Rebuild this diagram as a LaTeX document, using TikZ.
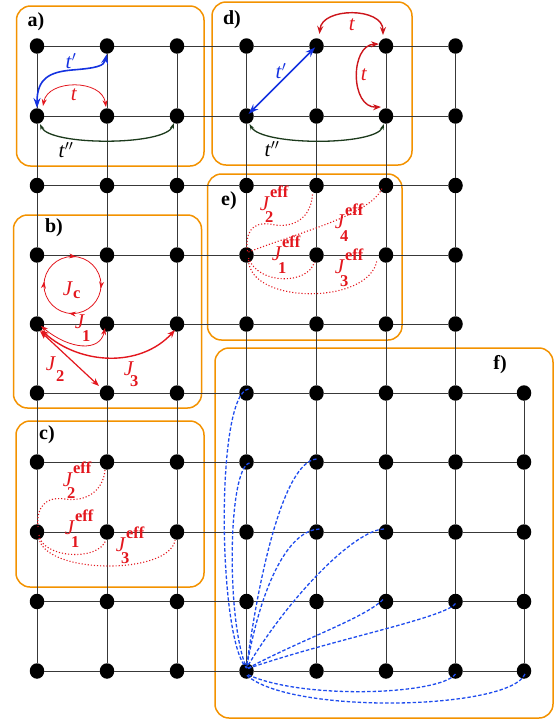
\documentclass[tikz,border=0pt]{standalone}
\usepackage{fontspec}
\setmainfont{Liberation Serif}
\usetikzlibrary{arrows.meta,shapes.geometric,decorations.markings,calc}
\definecolor{boxc}{HTML}{F39200}
\definecolor{jred}{HTML}{E3171E}
\definecolor{tblue}{HTML}{1432E0}
\definecolor{dblue}{HTML}{1E4CEE}
\definecolor{tgreen}{HTML}{1C3A1C}
\newcommand{\JS}{\fontsize{16.5}{16.5}\selectfont\bfseries}
\newcommand{\Jx}[4]{\textit{J}\smash{\rlap{\kern#3\raisebox{-#4}{\JS #2}}\rlap{\raisebox{13pt}{\JS #1}}}}
\begin{document}
\begin{tikzpicture}[x=1pt,y=-1pt,
  dot/.style={ellipse,fill=black,inner sep=0pt,minimum width=14.5pt,minimum height=15.5pt},
  gridline/.style={draw=black!78,line width=0.9pt},
  panel/.style={draw=boxc,line width=1.5pt,rounded corners=14pt},
  plab/.style={font=\fontsize{20}{20}\selectfont\bfseries,inner sep=0pt},
  tlab/.style={font=\fontsize{21}{21}\selectfont,inner sep=0pt},
  Jlab/.style={text=jred,font=\fontsize{21}{21}\selectfont,inner sep=0pt},
  tp/.style={draw=tblue,line width=1.6pt,{Stealth[length=10pt,width=7pt]}-{Stealth[length=10pt,width=7pt]}},
  tr/.style={draw=jred,line width=0.8pt,{Stealth[length=7pt,width=5pt]}-{Stealth[length=7pt,width=5pt]}},
  trd/.style={draw=jred!90!black,line width=1.4pt,{Stealth[length=8pt,width=6pt]}-{Stealth[length=8pt,width=6pt]}},
  tg/.style={draw=tgreen,line width=1.3pt,{Stealth[length=6pt,width=4pt]}-{Stealth[length=6pt,width=4pt]}},
  jthin/.style={draw=jred,line width=0.8pt,{Stealth[length=7pt,width=5pt]}-{Stealth[length=7pt,width=5pt]}},
  jthick/.style={draw=jred,line width=1.4pt,{Stealth[length=8pt,width=6pt]}-{Stealth[length=8pt,width=6pt]}},
  jdot/.style={draw=jred,line width=1.1pt,dotted},
  bdash/.style={draw=dblue,line width=1.3pt,dash pattern=on 3.5pt off 2pt}]
\useasboundingbox (0,0) rectangle (555,721);
% panels
\draw[panel] (16.5,6) rectangle (204,166);
\draw[panel] (212,2) rectangle (412,165);
\draw[panel] (207.5,174) rectangle (402,340);
\draw[panel] (13.5,215) rectangle (201.5,408);
\draw[panel] (16,421) rectangle (204,587);
\draw[panel] (215,348) rectangle (553,718);
% lattice sites
\foreach \r/\y in {1/46,2/116,3/185.5,4/255,5/324,6/393,7/462,8/532,9/601.5,10/671}{
  \foreach \c/\x in {1/37,2/107,3/177,4/246.5,5/316.5,6/386,7/455.5,8/524}{
    \ifnum\r<6 \ifnum\c=8 \else \node[dot] (n-\r-\c) at (\x,\y) {}; \fi
    \else \node[dot] (n-\r-\c) at (\x,\y) {}; \fi
  }
}
% lattice bonds
\foreach \r in {1,...,10}{
  \pgfmathtruncatemacro\m{\r<6 ? 6 : 7}
  \foreach \c in {1,...,\m}{
    \pgfmathtruncatemacro\d{\c+1}
    \draw[gridline] (n-\r-\c) -- (n-\r-\d);
  }
}
\foreach \c in {1,...,8}{
  \pgfmathtruncatemacro\s{\c==8 ? 6 : 1}
  \foreach \r in {\s,...,9}{
    \pgfmathtruncatemacro\q{\r+1}
    \draw[gridline] (n-\r-\c) -- (n-\q-\c);
  }
}
% panel labels
\node[plab] (la) at (36,22) {a)};
\node[plab] (ld) at (232,20) {d)};
\node[plab] (le) at (229,201) {e)};
\node[plab] (lb) at (54,228) {b)};
\node[plab] (lc) at (47,435) {c)};
\node[plab] (lf) at (500,365) {f)};
% a)
\draw[tp] (n-2-1.north) .. controls (37,78) and (50,72) .. (72,70) .. controls (97,68) and (104,66) .. (n-1-2.south);
\node[tlab,text=tblue] (ta1) at (71,61) {\textit{t}$'$};
\draw[tr] ($(n-2-1)+(6,-10)$) .. controls (48,79) and (102,79) .. ($(n-2-2)+(-1,-9)$);
\node[tlab,text=jred] (ta2) at (74,95) {\textit{t}};
\draw[tg] ($(n-2-1)+(3,8)$) .. controls (50,146) and (165,146) .. ($(n-2-3)+(-3,7)$);
\node[tlab] (ta3) at (66,150) {\textit{t}$''$};
% d)
\draw[tp,shorten <=3pt,shorten >=2pt] (n-2-4.center) -- (n-1-5.center);
\node[tlab,text=tblue] (td1) at (281,71) {\textit{t}$'$};
\draw[trd] ($(n-1-5)+(3,-12)$) .. controls (322,7) and (383,7) .. ($(n-1-6)+(-3,-11)$);
\node[tlab,text=jred] (td2) at (352,25) {\textit{t}};
\draw[trd] ($(n-1-6)+(-7,-2)$) .. controls (350,45) and (350,108) .. ($(n-2-6)+(-5,-9)$);
\node[tlab,text=jred] (td3) at (364,75) {\textit{t}};
\draw[tg] ($(n-2-4)+(3,8)$) .. controls (262,146) and (375,146) .. ($(n-2-6)+(-2,8)$);
\node[tlab] (td4) at (272,149) {\textit{t}$''$};
% b)
\coordinate (jc) at (72.5,285);
\draw[jred,line width=0.8pt,postaction={decorate},decoration={markings,
  mark=at position 0.02 with {\arrow{Stealth[length=7pt,width=5pt]}},
  mark=at position 0.27 with {\arrow{Stealth[length=7pt,width=5pt]}},
  mark=at position 0.52 with {\arrow{Stealth[length=7pt,width=5pt]}},
  mark=at position 0.77 with {\arrow{Stealth[length=7pt,width=5pt]}}}]
  (jc) circle[radius=28.5];
\node[Jlab] (jbc) at (68,289) {\Jx{}{c}{0pt}{3pt}};
\draw[jthin] ($(n-5-1)+(4,2)$) .. controls (70,350) and (100,352) .. ($(n-5-2)+(-2,4)$);
\draw[jthick] ($(n-5-1)+(4,6)$) .. controls (80,365) and (140,368) .. ($(n-5-3)+(-2,6)$);
\draw[jthick,line width=1.2pt] ($(n-5-1)+(3,7)$) -- ($(n-6-2)+(-8,-7)$);
\node[Jlab] (jb1) at (80,322) {\Jx{}{1}{-3pt}{13pt}};
\node[Jlab] (jb2) at (51,364) {\Jx{}{2}{0pt}{11pt}};
\node[Jlab] (jb3) at (129,369) {\Jx{}{3}{-4pt}{11pt}};
% c)
\draw[jdot] ($(n-7-2)+(-2,8)$) .. controls (103,492) and (85,502) .. (65,499) .. controls (45,496) and (36,508) .. ($(n-8-1)+(1,-5)$);
\draw[jdot] ($(n-8-1)+(2,3)$) .. controls (42,558) and (98,562) .. ($(n-8-2)+(-1,8)$);
\draw[jdot] ($(n-8-1)+(2,6)$) .. controls (45,575) and (170,575) .. ($(n-8-3)+(-2,8)$);
\node[Jlab] (jc2) at (68,480) {\Jx{eff}{2}{-6pt}{12pt}};
\node[Jlab] (jc1) at (70,528) {\Jx{eff}{1}{-4pt}{13pt}};
\node[Jlab] (jc3) at (121,545) {\Jx{eff}{3}{-5pt}{12pt}};
% e)
\draw[jdot] ($(n-3-5)+(-4,9)$) .. controls (310,225) and (285,228) .. (270,224) .. controls (252,222) and (245,232) .. ($(n-4-4)+(1,-3)$);
\draw[jdot] ($(n-4-4)+(2,-3)$) .. controls (300,232) and (370,215) .. ($(n-3-6)+(-4,3)$);
\draw[jdot] ($(n-4-4)+(2,3)$) .. controls (258,285) and (308,285) .. ($(n-4-5)+(-2,7)$);
\draw[jdot] ($(n-4-4)+(2,5)$) .. controls (250,305) and (370,305) .. ($(n-4-6)+(-9,5)$);
\node[Jlab] (je2) at (265,204) {\Jx{eff}{2}{-5pt}{12pt}};
\node[Jlab] (je4) at (340,222) {\Jx{eff}{4}{-5pt}{13pt}};
\node[Jlab] (je1) at (277,254) {\Jx{eff}{1}{-4pt}{13pt}};
\node[Jlab] (je3) at (340,267) {\Jx{eff}{3}{-5pt}{13pt}};
% f)
\draw[bdash] ($(n-6-4)+(2,-4)$) .. controls (215,395) and (218,640) .. ($(n-10-4)+(0,-3)$);
\draw[bdash] ($(n-7-4)+(3,1)$) .. controls (228,468) and (226,620) .. ($(n-10-4)+(0,-3)$);
\draw[bdash] ($(n-7-5)+(0,-3)$) .. controls (283,462) and (258,580) .. ($(n-10-4)+(0,-3)$);
\draw[bdash] ($(n-8-5)+(3,-3)$) .. controls (290,530) and (262,580) .. ($(n-10-4)+(0,-3)$);
\draw[bdash] ($(n-8-6)+(-2,-3)$) .. controls (355,530) and (290,595) .. ($(n-10-4)+(0,-3)$);
\draw[bdash] ($(n-9-6)+(-3,-2)$) .. controls (365,618) and (300,640) .. ($(n-10-4)+(0,-2)$);
\draw[bdash] ($(n-9-7)+(0,2)$) .. controls (445,618) and (330,640) .. ($(n-10-4)+(0,-2)$);
\draw[bdash] ($(n-10-7)+(0,3)$) .. controls (440,695) and (300,700) .. ($(n-10-4)+(0,3)$);
\draw[bdash] ($(n-10-8)+(1,3)$) .. controls (510,710) and (290,715) .. ($(n-10-4)+(0,4)$);
\end{tikzpicture}
\end{document}
